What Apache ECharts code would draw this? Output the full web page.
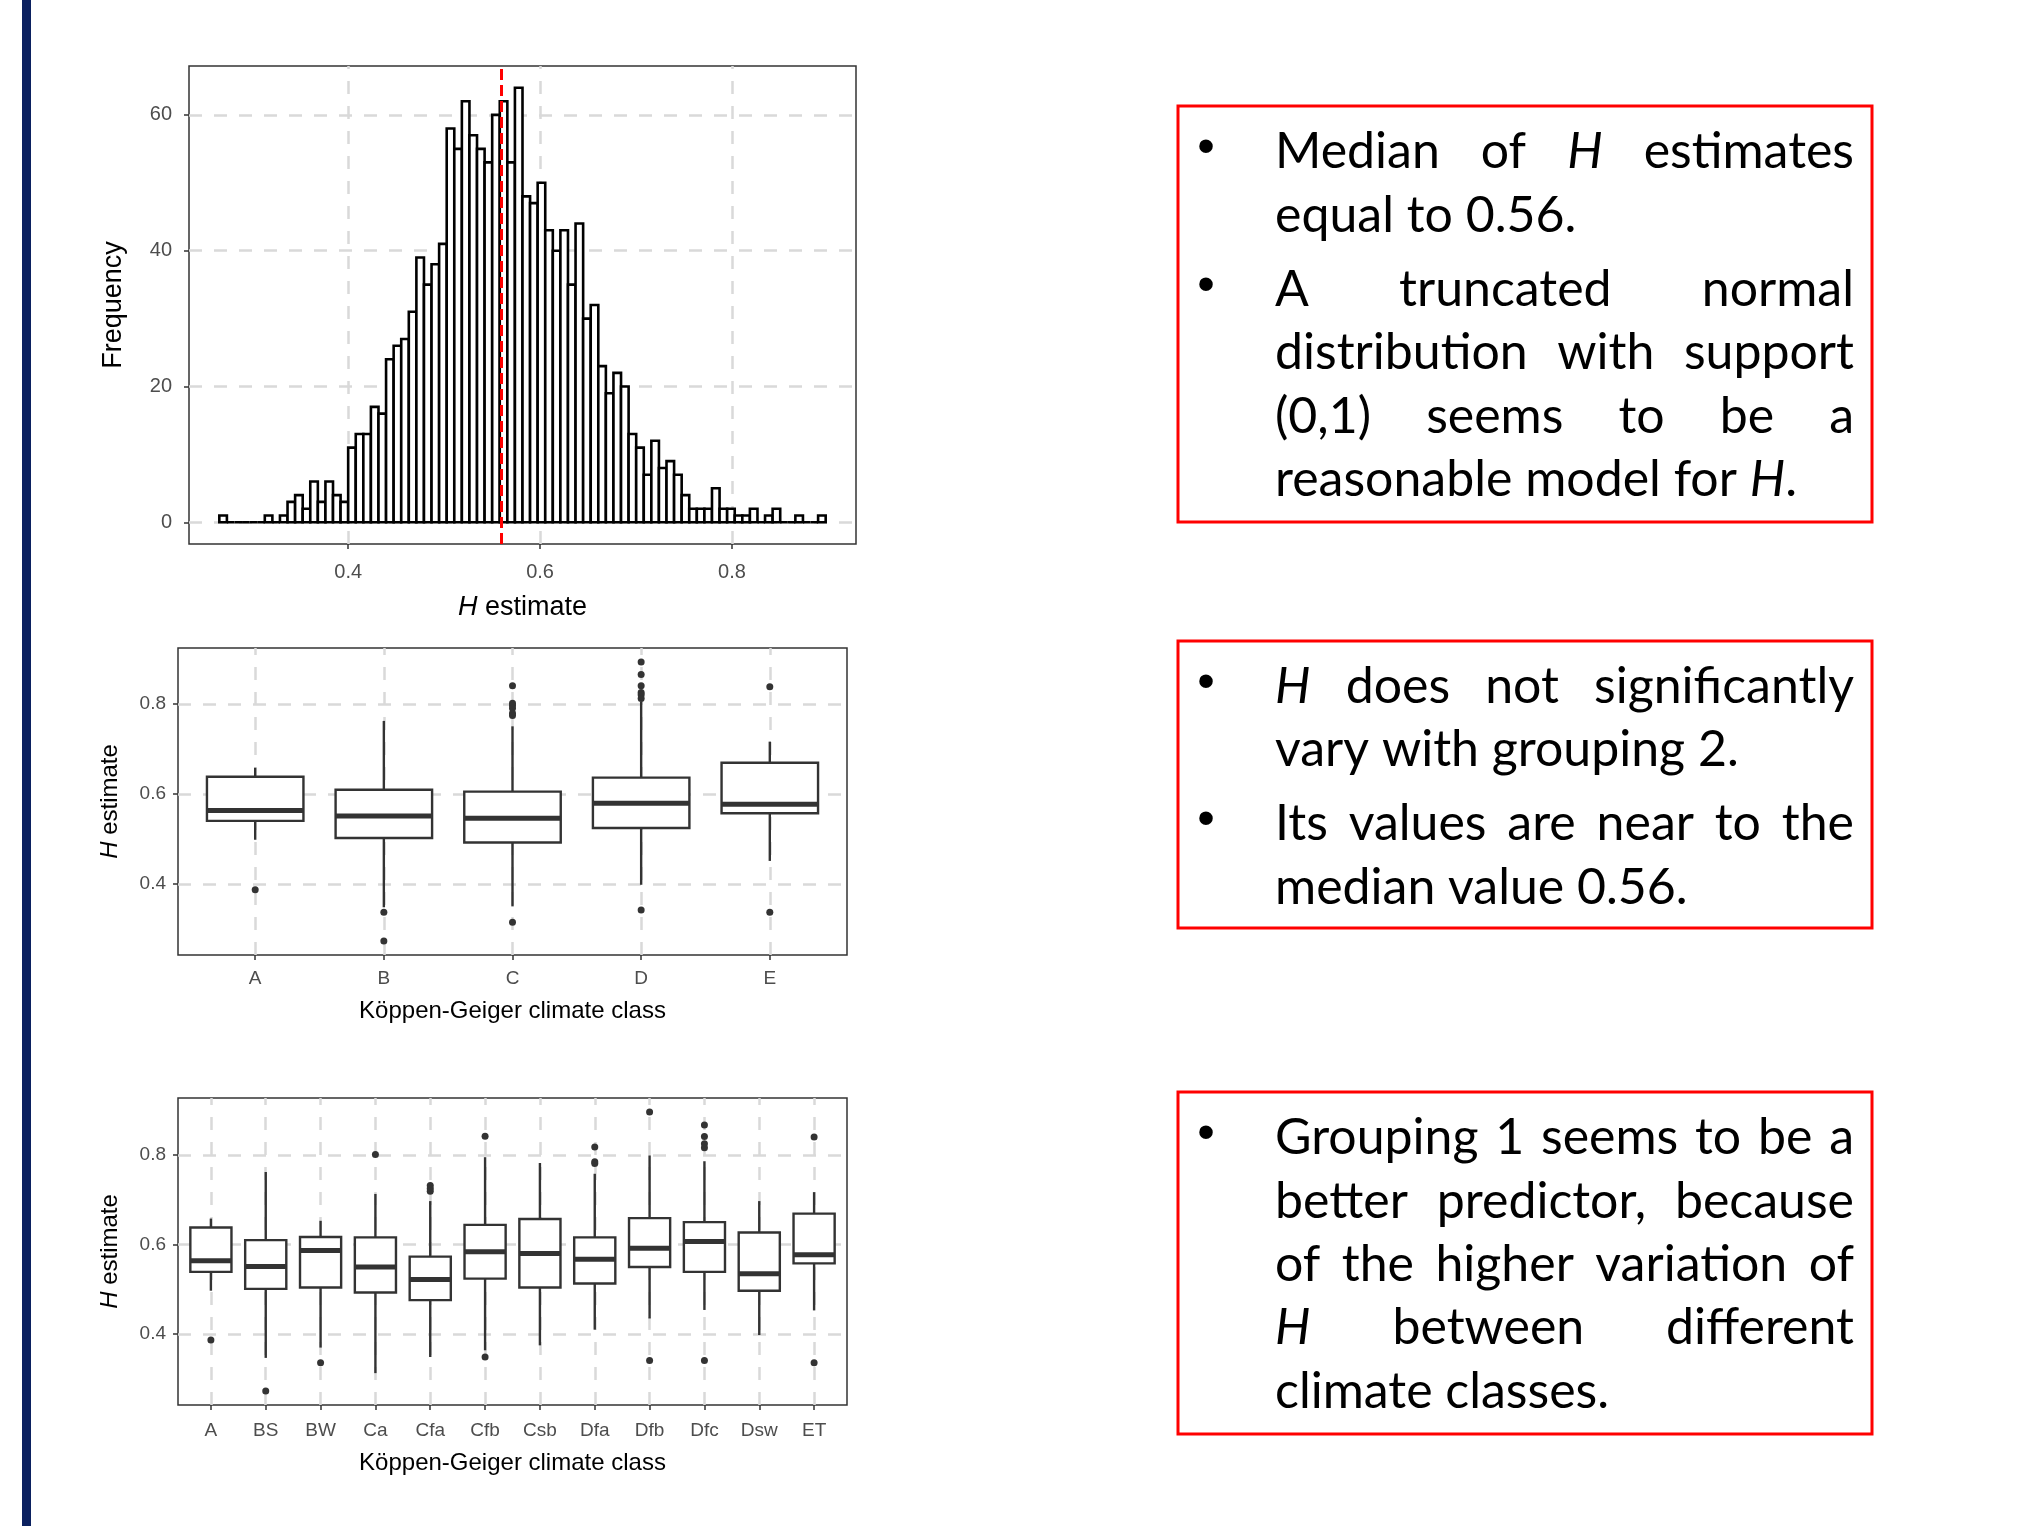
<!DOCTYPE html>
<html>
<head>
<meta charset="utf-8">
<script src="https://cdn.jsdelivr.net/npm/echarts@6/dist/echarts.min.js"></script>
<style>
  html, body { margin: 0; padding: 0; background: #fff; }
  #main { width: 2044px; height: 1526px; }
</style>
</head>
<body>
<div id="main"></div>
<script>
// histogram of H estimates (80 bins)
var histBinStart = 0.2657;
var histBinWidth = 0.0079;
var histCounts = [
  1, 0, 0, 0, 0, 0, 1, 0, 1, 3,
  4, 2, 6, 3, 6, 4, 3, 11, 13, 13,
  17, 16, 24, 26, 27, 31, 39, 35, 38, 41,
  58, 55, 62, 57, 55, 53, 60, 62, 53, 64,
  48, 47, 50, 43, 40, 43, 35, 44, 30, 32,
  23, 19, 22, 20, 13, 11, 7, 12, 8, 9,
  7, 4, 2, 2, 2, 5, 2, 2, 1, 1,
  2, 0, 1, 2, 0, 0, 1, 0, 0, 1
];
var medianH = 0.5575;
var histXTicks = [0.4, 0.6, 0.8];
var histYTicks = [0, 20, 40, 60];
var boxYTicks = [0.4, 0.6, 0.8];

// grouping 2 : [lower whisker, Q1, median, Q3, upper whisker]
var group2Classes = ['A', 'B', 'C', 'D', 'E'];
var group2Stats = [
  [0.498, 0.540, 0.563, 0.638, 0.658],
  [0.348, 0.502, 0.551, 0.609, 0.762],
  [0.350, 0.492, 0.546, 0.605, 0.750],
  [0.398, 0.524, 0.579, 0.636, 0.805],
  [0.451, 0.557, 0.577, 0.669, 0.716]
];
var group2Outliers = [
  [0.387],
  [0.337, 0.273],
  [0.840, 0.801, 0.796, 0.790, 0.779, 0.774, 0.315],
  [0.893, 0.865, 0.840, 0.825, 0.820, 0.812, 0.342],
  [0.838, 0.337]
];

// grouping 1
var group1Classes = ['A', 'BS', 'BW', 'Ca', 'Cfa', 'Cfb', 'Csb', 'Dfa', 'Dfb', 'Dfc', 'Dsw', 'ET'];
var group1Stats = [
  [0.497, 0.539, 0.564, 0.638, 0.658],
  [0.347, 0.501, 0.551, 0.610, 0.762],
  [0.370, 0.504, 0.587, 0.617, 0.653],
  [0.313, 0.493, 0.550, 0.616, 0.713],
  [0.349, 0.476, 0.522, 0.573, 0.697],
  [0.364, 0.524, 0.584, 0.644, 0.795],
  [0.375, 0.504, 0.580, 0.657, 0.782],
  [0.410, 0.513, 0.567, 0.616, 0.758],
  [0.435, 0.550, 0.592, 0.659, 0.799],
  [0.454, 0.539, 0.607, 0.650, 0.786],
  [0.398, 0.497, 0.535, 0.627, 0.697],
  [0.453, 0.558, 0.577, 0.669, 0.717]
];
var group1Outliers = [
  [0.387],
  [0.273],
  [0.336],
  [0.801],
  [0.732, 0.725, 0.719],
  [0.842, 0.349],
  [],
  [0.818, 0.785, 0.781],
  [0.896, 0.341],
  [0.867, 0.841, 0.825, 0.816, 0.341],
  [],
  [0.840, 0.336]
];

// the three notes, *H* = italic
var notes = [
  { box: [1178, 106, 1872, 522], paras: [
    { y: [167, 231], lines: ['Median of *H* estimates', 'equal to 0.56.'] },
    { y: [305, 368, 432, 495], lines: ['A truncated normal', 'distribution with support', '(0,1) seems to be a', 'reasonable model for *H*.'] }
  ]},
  { box: [1178, 641, 1872, 928], paras: [
    { y: [702, 765], lines: ['*H* does not significantly', 'vary with grouping 2.'] },
    { y: [839, 903], lines: ['Its values are near to the', 'median value 0.56.'] }
  ]},
  { box: [1178, 1092, 1872, 1434], paras: [
    { y: [1153, 1217, 1280, 1343, 1407], lines: ['Grouping 1 seems to be a', 'better predictor, because', 'of the higher variation of', '*H* between different', 'climate classes.'] }
  ]}
];

var sans = "'Liberation Sans', Arial, sans-serif";
var noteFont = "Lato, 'Open Sans', sans-serif";
var noteSize = 50;

function expand(lo, hi) {
  var d = (hi - lo) * 0.05;
  return [lo - d, hi + d];
}

// ---------- histogram ----------
var histData = histCounts.map(function (c, i) {
  return [histBinStart + i * histBinWidth, histBinStart + (i + 1) * histBinWidth, c];
});
var histX = expand(histBinStart, histBinStart + histCounts.length * histBinWidth);
var histY = expand(0, Math.max.apply(null, histCounts));

function histItem(params, api) {
  var p0 = api.coord([api.value(0), api.value(2)]);
  var p1 = api.coord([api.value(1), 0]);
  return {
    type: 'rect',
    shape: { x: p0[0], y: p0[1], width: p1[0] - p0[0], height: p1[1] - p0[1] },
    style: { fill: '#ffffff', stroke: '#000000', lineWidth: 2.6 }
  };
}

// ---------- boxplots ----------
function boxItem(params, api) {
  var x = api.value(0);
  var lo = api.coord([x, api.value(1)]);
  var q1 = api.coord([x, api.value(2)]);
  var md = api.coord([x, api.value(3)]);
  var q3 = api.coord([x, api.value(4)]);
  var hi = api.coord([x, api.value(5)]);
  var hw = api.size([0.75, 0])[0] / 2;
  return {
    type: 'group',
    children: [
      { type: 'line', shape: { x1: hi[0], y1: hi[1], x2: q3[0], y2: q3[1] }, style: { stroke: '#333333', lineWidth: 2.4 } },
      { type: 'line', shape: { x1: q1[0], y1: q1[1], x2: lo[0], y2: lo[1] }, style: { stroke: '#333333', lineWidth: 2.4 } },
      { type: 'rect', shape: { x: q3[0] - hw, y: q3[1], width: hw * 2, height: q1[1] - q3[1] },
        style: { fill: '#ffffff', stroke: '#333333', lineWidth: 2.4 } },
      { type: 'line', shape: { x1: md[0] - hw, y1: md[1], x2: md[0] + hw, y2: md[1] },
        style: { stroke: '#333333', lineWidth: 5 } }
    ]
  };
}

function boxRange(stats, outs) {
  var all = [];
  stats.forEach(function (s) { all = all.concat(s); });
  outs.forEach(function (o) { all = all.concat(o); });
  return expand(Math.min.apply(null, all), Math.max.apply(null, all));
}

function outlierData(outs) {
  var d = [];
  outs.forEach(function (o, i) {
    o.forEach(function (v) { d.push([i + 1, v]); });
  });
  return d;
}

function seq(n) {
  var a = [];
  for (var i = 1; i <= n; i++) a.push(i);
  return a;
}

// dashed ggplot-like grid lines, kept under the marks
function gridLines(idx, xs, ys) {
  return {
    type: 'line', xAxisIndex: idx, yAxisIndex: idx, data: [], z: 1, silent: true,
    markLine: {
      z: 1, silent: true, symbol: ['none', 'none'], label: { show: false },
      lineStyle: { color: '#d9d9d9', width: 2.5, type: [13, 12] },
      emphasis: { disabled: true },
      data: xs.map(function (v) { return { xAxis: v }; })
        .concat(ys.map(function (v) { return { yAxis: v }; }))
    }
  };
}

function tick() {
  return { show: true, length: 5, inside: false, lineStyle: { color: '#333333', width: 1.5 } };
}

function axisDef(idx, range, ticks, fmt, fontSize, margin, name, nameSize, nameGap) {
  var t = tick();
  t.customValues = ticks;
  return {
    gridIndex: idx, type: 'value', min: range[0], max: range[1],
    axisLine: { show: false, onZero: false },
    splitLine: { show: false },
    axisTick: t,
    axisLabel: { customValues: ticks, formatter: fmt, color: '#4d4d4d', fontSize: fontSize, fontFamily: sans, margin: margin },
    name: name, nameLocation: 'middle', nameGap: nameGap,
    nameTextStyle: { color: '#000', fontSize: nameSize, fontFamily: sans,
      rich: { i: { fontStyle: 'italic', color: '#000', fontSize: nameSize, fontFamily: sans } } }
  };
}

var gridStyle = { show: true, borderColor: '#333333', borderWidth: 1.5, backgroundColor: 'transparent' };
var grids = [
  Object.assign({ left: 189, top: 66, width: 667, height: 478 }, gridStyle),
  Object.assign({ left: 178, top: 648, width: 669, height: 307 }, gridStyle),
  Object.assign({ left: 178, top: 1098, width: 669, height: 307 }, gridStyle)
];

var box2Y = boxRange(group2Stats, group2Outliers);
var box1Y = boxRange(group1Stats, group1Outliers);
var fmt1 = function (v) { return v.toFixed(1); };
var fmt0 = function (v) { return String(Math.round(v)); };

var xAxes = [
  axisDef(0, histX, histXTicks, fmt1, 20, 18, '{i|H} estimate', 27, 50),
  axisDef(1, [0.4, group2Classes.length + 0.6], seq(group2Classes.length),
    function (v) { return group2Classes[Math.round(v) - 1]; }, 19, 14, 'Köppen-Geiger climate class', 24, 44),
  axisDef(2, [0.4, group1Classes.length + 0.6], seq(group1Classes.length),
    function (v) { return group1Classes[Math.round(v) - 1]; }, 19, 16, 'Köppen-Geiger climate class', 24, 46)
];
var yAxes = [
  axisDef(0, histY, histYTicks, fmt0, 20, 17, 'Frequency', 27, 62),
  axisDef(1, box2Y, boxYTicks, fmt1, 19, 12, '{i|H} estimate', 24, 56),
  axisDef(2, box1Y, boxYTicks, fmt1, 19, 12, '{i|H} estimate', 24, 56)
];

var series = [
  gridLines(0, histXTicks, histYTicks),
  {
    type: 'custom', xAxisIndex: 0, yAxisIndex: 0, z: 2,
    data: histData, encode: { x: [0, 1], y: 2 }, renderItem: histItem
  },
  {
    type: 'line', xAxisIndex: 0, yAxisIndex: 0, data: [], z: 6, silent: true,
    markLine: {
      z: 6, silent: true, symbol: ['none', 'none'], label: { show: false },
      lineStyle: { color: '#ff0000', width: 3, type: [11, 5] },
      data: [{ xAxis: medianH }]
    }
  },
  gridLines(1, seq(group2Classes.length), boxYTicks),
  {
    type: 'custom', xAxisIndex: 1, yAxisIndex: 1, z: 3,
    data: group2Stats.map(function (s, i) { return [i + 1].concat(s); }),
    encode: { x: 0, y: [1, 2, 3, 4, 5] }, renderItem: boxItem
  },
  {
    type: 'scatter', xAxisIndex: 1, yAxisIndex: 1, z: 4, symbolSize: 7,
    itemStyle: { color: '#333333', opacity: 1 }, data: outlierData(group2Outliers)
  },
  gridLines(2, seq(group1Classes.length), boxYTicks),
  {
    type: 'custom', xAxisIndex: 2, yAxisIndex: 2, z: 3,
    data: group1Stats.map(function (s, i) { return [i + 1].concat(s); }),
    encode: { x: 0, y: [1, 2, 3, 4, 5] }, renderItem: boxItem
  },
  {
    type: 'scatter', xAxisIndex: 2, yAxisIndex: 2, z: 4, symbolSize: 7,
    itemStyle: { color: '#333333', opacity: 1 }, data: outlierData(group1Outliers)
  }
];

// ---------- justified note text ----------
var ctx = document.createElement('canvas').getContext('2d');
function fontOf(italic) {
  return (italic ? 'italic ' : '') + noteSize + 'px ' + noteFont;
}
function parseWord(w) {
  var parts = w.split('*');
  var segs = [];
  parts.forEach(function (p, k) {
    if (p) segs.push({ t: p, i: k % 2 === 1 });
  });
  return segs;
}
function segWidth(s) {
  ctx.font = fontOf(s.i);
  return ctx.measureText(s.t).width;
}

var textLeft = 1275, textRight = 1854, bulletX = 1206;
var graphics = [
  { type: 'rect', shape: { x: 22, y: 0, width: 9, height: 1526 }, style: { fill: '#0b2160' }, silent: true }
];

notes.forEach(function (note) {
  var b = note.box;
  graphics.push({
    type: 'rect', shape: { x: b[0], y: b[1], width: b[2] - b[0], height: b[3] - b[1] },
    style: { fill: null, stroke: '#ff0000', lineWidth: 3 }, silent: true
  });
  note.paras.forEach(function (para) {
    graphics.push({
      type: 'text', x: bulletX, y: para.y[0] - 18,
      style: { text: '\u2022', font: noteSize + 'px ' + sans, fill: '#000',
        align: 'center', verticalAlign: 'middle', textAlign: 'center', textVerticalAlign: 'middle' },
      silent: true
    });
    para.lines.forEach(function (line, li) {
      var words = line.split(' ').map(parseWord);
      var widths = words.map(function (segs) {
        return segs.reduce(function (s, g) { return s + segWidth(g); }, 0);
      });
      var total = widths.reduce(function (a, c) { return a + c; }, 0);
      ctx.font = fontOf(false);
      var gap = ctx.measureText(' ').width;
      var last = li === para.lines.length - 1;
      if (!last && words.length > 1) gap = (textRight - textLeft - total) / (words.length - 1);
      var x = textLeft;
      var yMid = para.y[li] - noteSize * 0.3;
      words.forEach(function (segs, wi) {
        var sx = x;
        segs.forEach(function (g) {
          graphics.push({
            type: 'text', x: sx, y: yMid,
            style: { text: g.t, font: fontOf(g.i), fill: '#000',
              align: 'left', verticalAlign: 'middle', textAlign: 'left', textVerticalAlign: 'middle' },
            silent: true
          });
          sx += segWidth(g);
        });
        x += widths[wi] + gap;
      });
    });
  });
});

var chart = echarts.init(document.getElementById('main'), null, { renderer: 'canvas' });
chart.setOption({
  animation: false,
  backgroundColor: '#ffffff',
  textStyle: { fontFamily: sans },
  grid: grids,
  xAxis: xAxes,
  yAxis: yAxes,
  series: series,
  graphic: graphics
});
</script>
</body>
</html>
